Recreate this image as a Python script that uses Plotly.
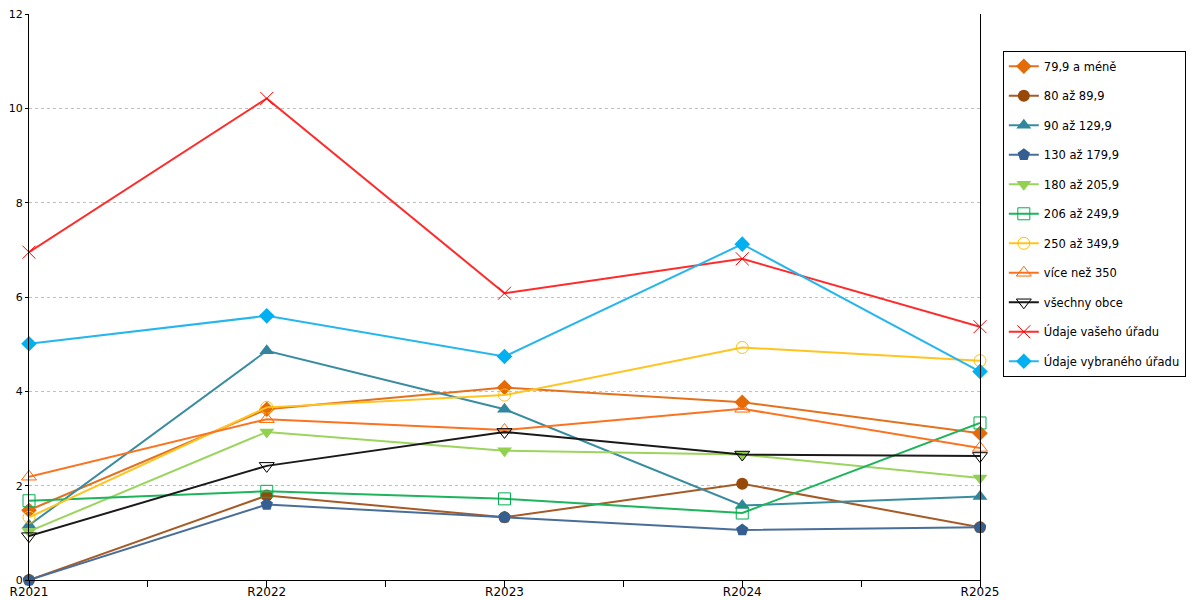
import plotly.graph_objects as go

years = ["R2021", "R2022", "R2023", "R2024", "R2025"]

names = [
    "79,9 a méně",
    "80 až 89,9",
    "90 až 129,9",
    "130 až 179,9",
    "180 až 205,9",
    "206 až 249,9",
    "250 až 349,9",
    "více než 350",
    "všechny obce",
    "Údaje vašeho úřadu",
    "Údaje vybraného úřadu",
]

v_79 = [1.48, 3.62, 4.08, 3.77, 3.11]
v_80 = [0.0, 1.79, 1.33, 2.04, 1.12]
v_90 = [1.16, 4.86, 3.62, 1.58, 1.77]
v_130 = [0.0, 1.60, 1.33, 1.06, 1.12]
v_180 = [1.03, 3.14, 2.74, 2.66, 2.16]
v_206 = [1.68, 1.88, 1.72, 1.42, 3.33]
v_250 = [1.33, 3.66, 3.92, 4.93, 4.65]
v_350 = [2.19, 3.41, 3.18, 3.63, 2.80]
v_all = [0.93, 2.42, 3.14, 2.66, 2.63]
v_vas = [6.95, 10.21, 6.08, 6.81, 5.37]
v_vyb = [5.01, 5.60, 4.74, 7.12, 4.42]

values = [v_79, v_80, v_90, v_130, v_180, v_206, v_250, v_350, v_all, v_vas, v_vyb]

line_colors = ["#E3711E", "#A65A26", "#3A8CA0", "#4A6E9A", "#9CD45E", "#1DB45C",
               "#FFC420", "#FA7320", "#1A1A1A", "#FF2A2A", "#26B6EE"]
marker_colors = ["#E36C09", "#984807", "#31859C", "#365F91", "#92D050", "#00B050",
                 "#FFC000", "#FF6600", "#000000", "#FF0000", "#00B0F0"]
symbols = ["diamond", "circle", "triangle-up", "pentagon", "triangle-down", "square-open",
           "circle-open", "triangle-up-open", "triangle-down-open", "x-thin-open", "diamond"]
sizes = [12, 12, 13, 13, 13, 12, 12, 13, 13, 13, 12]

xs = list(range(len(years)))

fig = go.Figure()
for i, name in enumerate(names):
    open_sym = symbols[i].endswith("open")
    fig.add_trace(go.Scatter(
        x=xs, y=values[i], name=name, mode="lines+markers",
        legendgroup=name,
        line=dict(color=line_colors[i], width=2),
        marker=dict(symbol=symbols[i], size=sizes[i], color=marker_colors[i],
                    line=dict(color=marker_colors[i], width=1 if open_sym else 0)),
        cliponaxis=False,
    ))

font = "DejaVu Sans"
fig.update_layout(
    width=1200, height=600,
    margin=dict(l=21, r=228, t=6, b=28, autoexpand=False),
    plot_bgcolor="white", paper_bgcolor="white",
    font=dict(family=font, size=12, color="#000000"),
    showlegend=True,
    legend=dict(
        x=1.024, xanchor="left", y=0.935, yanchor="top",
        bordercolor="#000000", borderwidth=1,
        font=dict(family=font, size=11.5, color="#000000"),
        tracegroupgap=10.5, traceorder="grouped",
        itemwidth=30,
    ),
    xaxis=dict(
        range=[0, len(years) - 1], automargin=False,
        tickmode="array", tickvals=xs, ticktext=years,
        ticklabeloverflow="allow",
        showgrid=False, zeroline=False,
        showline=True, linecolor="#000000", linewidth=1,
        ticks="outside", ticklen=1, tickcolor="#000000",
        minor=dict(dtick=0.5, tick0=0, ticks="outside", ticklen=6, tickcolor="#000000", showgrid=False),
        tickfont=dict(family=font, size=12),
    ),
    yaxis=dict(
        range=[0, 12], dtick=2, automargin=False,
        ticklabeloverflow="allow",
        showgrid=True, gridcolor="#C0C0C0", griddash="3px,3px", gridwidth=1,
        zeroline=False,
        showline=True, linecolor="#000000", linewidth=1, mirror=True,
        ticks="outside", ticklen=3, tickcolor="#000000",
        tickfont=dict(family=font, size=11),
    ),
)

fig.write_html("out.html")
